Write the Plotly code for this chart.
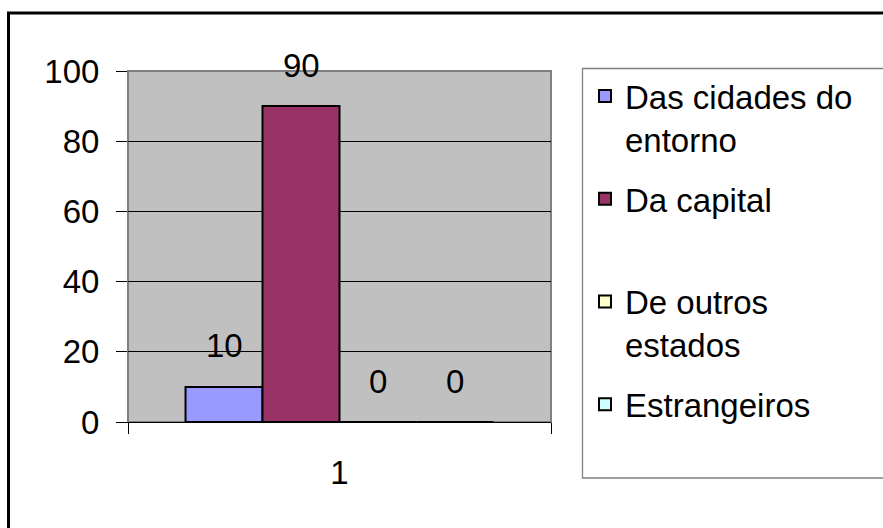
import plotly.graph_objects as go

categories = ["1"]
series_names = ["Das cidades do<br>entorno", "Da capital<br> ", "De outros<br>estados", "Estrangeiros<br> "]
series_values = [[10], [90], [0], [0]]
series_colors = ["#9999FF", "#993366", "#FFFFCC", "#CCFFFF"]
y_ticks = [0, 20, 40, 60, 80, 100]

W, H = 883, 528
L, R, T, B = 128, 332, 71, 106
FONT = "Arial, Liberation Sans, sans-serif"
BARGAP = 0.272

fig = go.Figure()
for name, vals, col in zip(series_names, series_values, series_colors):
    fig.add_trace(go.Bar(
        x=categories, y=vals, name=name,
        marker=dict(color=col, line=dict(color="black", width=2)),
        legendgroup=name,
    ))

# data labels above each bar
n = len(series_values)
bw = (1 - BARGAP) / n
for i, vals in enumerate(series_values):
    for j, v in enumerate(vals):
        fig.add_annotation(x=j + (i - (n - 1) / 2) * bw, y=v, text=str(v),
                           showarrow=False, yshift=41, xref="x", yref="y",
                           font=dict(family=FONT, size=33, color="black"))

pw = W - L - R
ph = H - T - B
def px(x):
    return (x - L) / pw
def py(y):
    return (H - B - y) / ph

# plot area border (top/right gray)
fig.add_shape(type="rect", xref="paper", yref="paper", x0=0, x1=1, y0=0, y1=1,
              line=dict(color="#808080", width=2), layer="below")
# legend frame (extends past the right edge as in the original)
fig.add_shape(type="rect", xref="paper", yref="paper",
              x0=px(582.5), x1=px(900), y0=py(478), y1=py(68.5),
              line=dict(color="#808080", width=1.3))
# outer chart border
fig.add_shape(type="rect", xref="paper", yref="paper",
              x0=px(8.5), x1=px(900), y0=py(540), y1=py(13),
              line=dict(color="black", width=3))

fig.update_layout(
    width=W, height=H,
    margin=dict(l=L, r=R, t=T, b=B, pad=0),
    paper_bgcolor="white", plot_bgcolor="#C0C0C0",
    barmode="group", bargap=BARGAP, bargroupgap=0,
    font=dict(family=FONT, size=33, color="black"),
    showlegend=True,
    legend=dict(x=px(585), y=py(68), xanchor="left", yanchor="top",
                borderwidth=0, bgcolor="rgba(0,0,0,0)",
                font=dict(family=FONT, size=33, color="black"),
                valign="top", tracegroupgap=14, traceorder="grouped",
                maxheight=500),
    xaxis=dict(type="category", tickson="boundaries", ticks="outside", ticklen=11,
               tickcolor="black", showline=True, linecolor="black", linewidth=1,
               showgrid=False, range=[-0.5, 0.5], tickfont=dict(size=33),
               ticklabelstandoff=21),
    yaxis=dict(range=[0, 100], tickvals=y_ticks, ticks="outside", ticklen=11,
               tickcolor="black", showline=True, linecolor="#808080", linewidth=1,
               showgrid=True, gridcolor="black", gridwidth=1, zeroline=False,
               tickfont=dict(size=33), ticklabelstandoff=10),
)

fig.write_html("out.html", config={"displayModeBar": False},
               post_script="document.body.style.margin='0';")
